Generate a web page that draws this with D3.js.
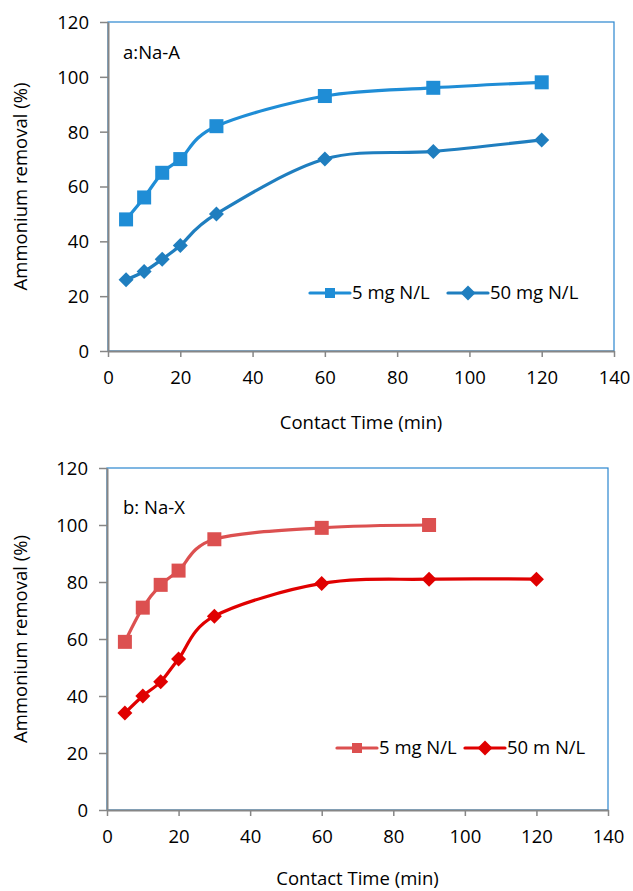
<!DOCTYPE html>
<html>
<head>
<meta charset="utf-8">
<script src="https://cdn.jsdelivr.net/npm/d3@7"></script>
<style>
  body { margin: 0; background: #fff; }
  text { font-family: "Open Sans", sans-serif; fill: #000; }
</style>
</head>
<body>
<div id="chart"></div>
<script>
var width = 633;
var height = 891;

// Data
var times = [5, 10, 15, 20, 30, 60, 90, 120];
var naA5 = [48, 56, 65, 70, 82, 93, 96, 98];
var naA50 = [26, 29, 33.5, 38.5, 50, 70, 72.8, 77];
var timesX5 = [5, 10, 15, 20, 30, 60, 90];
var naX5 = [59, 71, 79, 84, 95, 99, 100];
var naX50 = [34, 40, 45, 53, 68, 79.5, 81, 81];
var xTicks = [0, 20, 40, 60, 80, 100, 120, 140];
var yTicks = [0, 20, 40, 60, 80, 100, 120];

var fontSize = 18.5;

var panels = [
  {
    label: "a:Na-A",
    box: { left: 108, right: 614, top: 22, bottom: 351 },
    labelPos: [123, 59],
    titleOffset: 78,
    legendY: 293,
    legendX: [310, 448],
    series: [
      { name: "5 mg N/L", x: times, y: naA5, color: "#1f8dd6", marker: "square" },
      { name: "50 mg N/L", x: times, y: naA50, color: "#1f7ebf", marker: "diamond" }
    ]
  },
  {
    label: "b: Na-X",
    box: { left: 107, right: 608, top: 468, bottom: 810 },
    labelPos: [123, 514],
    titleOffset: 75,
    legendY: 748,
    legendX: [337, 465],
    series: [
      { name: "5 mg N/L", x: timesX5, y: naX5, color: "#dc5050", marker: "square" },
      { name: "50 m N/L", x: times, y: naX50, color: "#e00000", marker: "diamond" }
    ]
  }
];

var svg = d3.select("#chart")
  .append("svg")
  .attr("width", width)
  .attr("height", height);

function drawMarker(g, type, cx, cy, color) {
  if (type === "square") {
    g.append("rect")
      .attr("x", cx - 7)
      .attr("y", cy - 7)
      .attr("width", 14)
      .attr("height", 14)
      .attr("fill", color);
  } else {
    g.append("path")
      .attr("d", "M" + cx + "," + (cy - 7.5) + "L" + (cx + 7.5) + "," + cy +
        "L" + cx + "," + (cy + 7.5) + "L" + (cx - 7.5) + "," + cy + "Z")
      .attr("fill", color);
  }
}

panels.forEach(function (p) {
  var b = p.box;
  var g = svg.append("g");

  var x = d3.scaleLinear().domain([0, 140]).range([b.left, b.right]);
  var y = d3.scaleLinear().domain([0, 120]).range([b.bottom, b.top]);

  // plot area border (blue, shows on top + right)
  g.append("rect")
    .attr("x", b.left)
    .attr("y", b.top)
    .attr("width", b.right - b.left)
    .attr("height", b.bottom - b.top)
    .attr("fill", "none")
    .attr("stroke", "#2a86cf")
    .attr("stroke-width", 1.2);

  // axes
  var xAxis = d3.axisBottom(x).tickValues(xTicks).tickSize(6).tickSizeOuter(0);
  var yAxis = d3.axisLeft(y).tickValues(yTicks).tickSize(8).tickSizeOuter(0);

  var gx = g.append("g")
    .attr("transform", "translate(0," + b.bottom + ")")
    .call(xAxis);
  var gy = g.append("g")
    .attr("transform", "translate(" + b.left + ",0)")
    .call(yAxis);

  [gx, gy].forEach(function (ax) {
    ax.select(".domain").attr("stroke", "#868686").attr("stroke-width", 2);
    ax.selectAll(".tick line").attr("stroke", "#868686").attr("stroke-width", 1.5);
    ax.selectAll(".tick text")
      .attr("font-size", fontSize)
      .attr("font-family", "Open Sans, sans-serif")
      .attr("fill", "#000");
  });
  gx.selectAll(".tick text").attr("dy", "1.05em").attr("y", 14);
  gy.selectAll(".tick text").attr("x", -19).attr("dy", "0.35em");

  // axis titles
  g.append("text")
    .attr("x", (b.left + b.right) / 2)
    .attr("y", b.bottom + p.titleOffset)
    .attr("text-anchor", "middle")
    .attr("font-size", fontSize)
    .text("Contact Time (min)");

  g.append("text")
    .attr("transform", "translate(27," + ((b.top + b.bottom) / 2) + ")rotate(-90)")
    .attr("text-anchor", "middle")
    .attr("font-size", fontSize)
    .text("Ammonium removal (%)");

  // panel label
  g.append("text")
    .attr("x", p.labelPos[0])
    .attr("y", p.labelPos[1])
    .attr("font-size", fontSize)
    .text(p.label);

  // series
  var line = d3.line()
    .x(function (d) { return x(d[0]); })
    .y(function (d) { return y(d[1]); })
    .curve(d3.curveCatmullRom.alpha(0));

  p.series.forEach(function (s, i) {
    var pts = s.x.map(function (t, k) { return [t, s.y[k]]; });
    g.append("path")
      .datum(pts)
      .attr("d", line)
      .attr("fill", "none")
      .attr("stroke", s.color)
      .attr("stroke-width", 3.2);
    pts.forEach(function (d) {
      drawMarker(g, s.marker, x(d[0]), y(d[1]), s.color);
    });

    // legend entry
    var lx = p.legendX[i];
    g.append("line")
      .attr("x1", lx)
      .attr("x2", lx + 40)
      .attr("y1", p.legendY)
      .attr("y2", p.legendY)
      .attr("stroke", s.color)
      .attr("stroke-width", 3.2)
      .attr("stroke-linecap", "round");
    if (s.marker === "square") {
      g.append("rect")
        .attr("x", lx + 15).attr("y", p.legendY - 5)
        .attr("width", 10).attr("height", 10)
        .attr("fill", s.color);
    } else {
      drawMarker(g, "diamond", lx + 20, p.legendY, s.color);
    }
    g.append("text")
      .attr("x", lx + 42)
      .attr("y", p.legendY)
      .attr("dy", "0.35em")
      .attr("font-size", fontSize)
      .text(s.name);
  });
});
</script>
</body>
</html>
